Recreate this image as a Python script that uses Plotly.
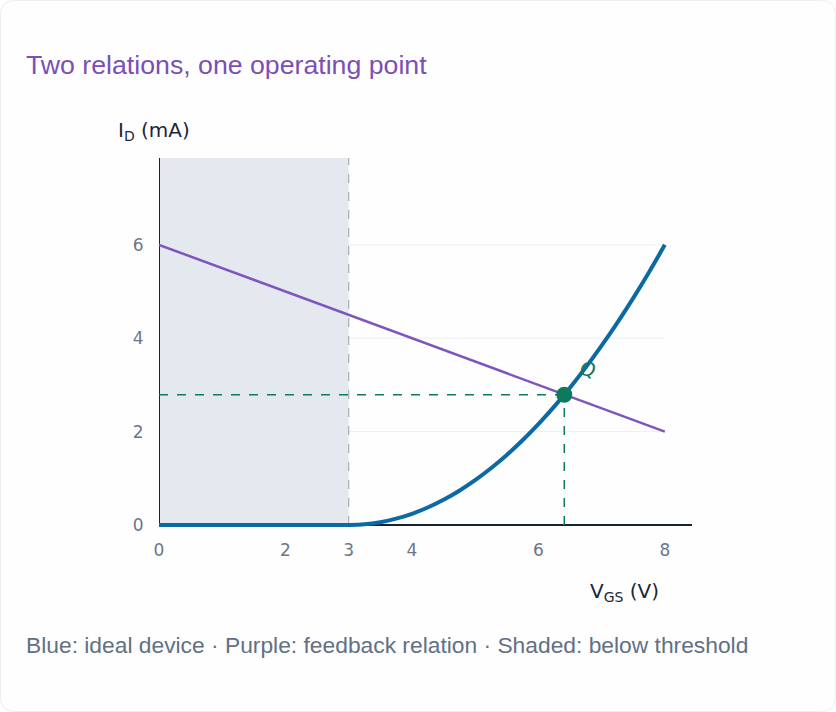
import plotly.graph_objects as go

# ---- data ----
vgs_device = [0, 1, 2, 3, 3.25, 3.5, 3.75, 4, 4.25, 4.5, 4.75, 5, 5.25, 5.5, 5.75, 6,
              6.25, 6.5, 6.75, 7, 7.25, 7.5, 7.75, 8]
id_device = [0, 0, 0, 0, 0.015, 0.06, 0.135, 0.24, 0.375, 0.54, 0.735, 0.96, 1.215, 1.5,
             1.815, 2.16, 2.535, 2.94, 3.375, 3.84, 4.335, 4.86, 5.415, 6.0]
vgs_feedback = [0, 8]
id_feedback = [6, 2]
q_vgs = [6.41]
q_id = [2.79]
threshold = 3
x_ticks = [0, 2, 3, 4, 6, 8]
y_ticks = [0, 2, 4, 6]
grid_y = [2, 4, 6]

W, H = 836, 712
ML, MR, MT, MB = 159, 144, 158, 184
PW, PH = W - ML - MR, H - MT - MB
XMAX, YMIN, YMAX = 8.43, -0.0643, 7.86


def px(x):
    return (x - ML) / PW


def py(y):
    return (H - MB - y) / PH


BLUE = "#0b69a3"
PURPLE = "#7e55bd"
GREEN = "#0e7a5d"
AXIS = "#162235"
SANS = "DejaVu Sans"
ARIAL = "Liberation Sans"

fig = go.Figure()

fig.add_trace(go.Scatter(x=vgs_feedback, y=id_feedback, mode="lines",
                         line=dict(color=PURPLE, width=2.5), hoverinfo="skip"))
fig.add_trace(go.Scatter(x=vgs_device, y=id_device, mode="lines", line_shape="spline",
                         line=dict(color=BLUE, width=4), hoverinfo="skip"))
fig.add_trace(go.Scatter(x=q_vgs, y=q_id, mode="markers",
                         marker=dict(color=GREEN, size=16), cliponaxis=False, hoverinfo="skip"))

shapes = []
# card background
r = 14
x0, x1, y0, y1 = px(0.5), px(W - 0.5), py(H - 0.5), py(0.5)
rx, ry = r / PW, r / PH
path = (f"M {x0+rx},{y1} L {x1-rx},{y1} Q {x1},{y1} {x1},{y1-ry} "
        f"L {x1},{y0+ry} Q {x1},{y0} {x1-rx},{y0} L {x0+rx},{y0} "
        f"Q {x0},{y0} {x0},{y0+ry} L {x0},{y1-ry} Q {x0},{y1} {x0+rx},{y1} Z")
shapes.append(dict(type="path", xref="paper", yref="paper", path=path,
                   fillcolor="#fefeff", line=dict(color="#eceef2", width=1), layer="below"))
for g in grid_y:
    shapes.append(dict(type="line", xref="x", yref="y", x0=0, x1=8, y0=g, y1=g,
                       line=dict(color="#eceef1", width=1), layer="below"))
shapes.append(dict(type="rect", xref="x", yref="y", x0=0, x1=threshold, y0=0, y1=YMAX,
                   fillcolor="#e4e9f0", line=dict(width=0), layer="below"))
shapes.append(dict(type="line", xref="x", yref="y", x0=threshold, x1=threshold, y0=0, y1=YMAX,
                   line=dict(color="#a9adb4", width=1.2, dash="dash"), layer="below"))
# axis lines
shapes.append(dict(type="line", xref="x", yref="y", x0=0, x1=XMAX, y0=0, y1=0,
                   line=dict(color=AXIS, width=2), layer="below"))
shapes.append(dict(type="line", xref="x", yref="y", x0=0, x1=0, y0=0, y1=YMAX,
                   line=dict(color=AXIS, width=2), layer="below"))
shapes.append(dict(type="line", xref="x", yref="y", x0=0, x1=q_vgs[0], y0=q_id[0], y1=q_id[0],
                   line=dict(color=GREEN, width=1.5, dash="dash")))
shapes.append(dict(type="line", xref="x", yref="y", x0=q_vgs[0], x1=q_vgs[0], y0=0, y1=q_id[0],
                   line=dict(color=GREEN, width=1.5, dash="dash")))

annotations = [
    dict(text="Two relations, one operating point", xref="paper", yref="paper",
         x=px(24), y=py(65), xanchor="left", yanchor="middle", showarrow=False,
         font=dict(family=ARIAL, size=26.7, color="#7a4fb6")),
    dict(text="Blue: ideal device · Purple: feedback relation · Shaded: below threshold",
         xref="paper", yref="paper", x=px(24), y=py(645), xanchor="left", yanchor="middle",
         showarrow=False, font=dict(family=ARIAL, size=22.8, color="#627084")),
    dict(text="I<sub>D</sub> (mA)", xref="paper", yref="paper", x=px(116), y=py(131),
         xanchor="left", yanchor="middle", showarrow=False,
         font=dict(family=SANS, size=20, color="#1b2638")),
    dict(text="V<sub>GS</sub> (V)", xref="paper", yref="paper", x=px(661), y=py(592),
         xanchor="right", yanchor="middle", showarrow=False,
         font=dict(family=SANS, size=20, color="#1b2638")),
    dict(text="<i>Q</i>", xref="x", yref="y", x=6.78, y=3.34, xanchor="center", yanchor="middle",
         showarrow=False, font=dict(family=SANS, size=20, color=GREEN)),
]

fig.update_layout(
    width=W, height=H,
    margin=dict(l=ML, r=MR, t=MT, b=MB, pad=0),
    paper_bgcolor="#ffffff", plot_bgcolor="rgba(0,0,0,0)",
    showlegend=False,
    shapes=shapes, annotations=annotations,
    font=dict(family=SANS, color="#6b7686", size=17),
)
fig.update_xaxes(range=[0, XMAX], tickvals=x_ticks, ticktext=[str(t) for t in x_ticks],
                 showgrid=False, zeroline=False, showline=False,
                 ticks="outside", ticklen=7, tickcolor="rgba(0,0,0,0)",
                 tickfont=dict(family=SANS, size=17, color="#6b7686"))
fig.update_yaxes(range=[YMIN, YMAX], tickvals=y_ticks, ticktext=[str(t) for t in y_ticks],
                 showgrid=False, zeroline=False, showline=False,
                 ticks="outside", ticklen=11, tickcolor="rgba(0,0,0,0)",
                 tickfont=dict(family=SANS, size=17, color="#6b7686"))

fig.write_html("out.html", config={"displayModeBar": False},
               post_script="document.body.style.margin='0';")
